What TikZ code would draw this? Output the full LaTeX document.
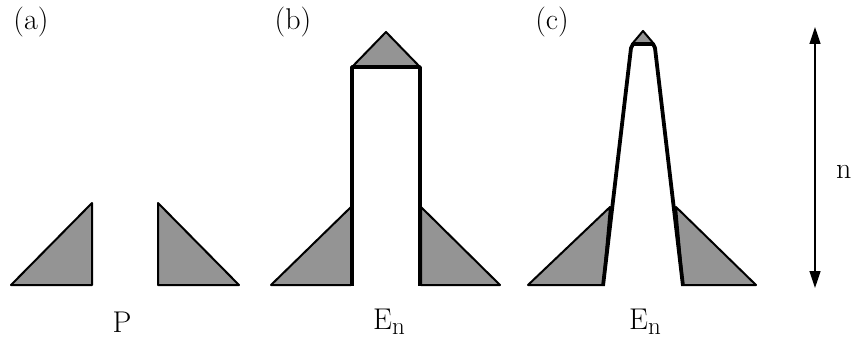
\documentclass[tikz,border=0pt]{standalone}
\usepackage{tikz}
\usetikzlibrary{arrows.meta}

\begin{document}
\begin{tikzpicture}[x=1pt,y=-1pt,line join=round,
  hatched/.style={draw=black,line width=2pt,fill=black!42},
  wall/.style={draw=black,line width=3.8pt},
  lbl/.style={font=\fontsize{30}{36}\selectfont,inner sep=0pt}]
  \useasboundingbox (0,0) rectangle (853,342);
  % (a)
  \node[lbl] (la) at (31,22) {(a)};
  \filldraw[hatched] (11,285) -- (92,203) -- (92,285) -- cycle;
  \filldraw[hatched] (158,203) -- (239,285) -- (158,285) -- cycle;
  \node[lbl] (lp) at (122,322) {P};
  % (b)
  \node[lbl] (lb) at (293,22) {(b)};
  \filldraw[hatched] (271,285) -- (351,207) -- (351,285) -- cycle;
  \filldraw[hatched] (421,207) -- (500,285) -- (421,285) -- cycle;
  \filldraw[hatched] (352,67) -- (386,32) -- (420,67) -- cycle;
  \draw[wall] (352,286) -- (352,67) -- (420,67) -- (420,286);
  \node[lbl] (eb) at (389,322) {E{\fontsize{25}{30}\selectfont\raisebox{-5pt}{n}}};
  % (c)
  \node[lbl] (lc) at (552,22) {(c)};
  \filldraw[hatched] (528,285) -- (610,207) -- (603,285) -- cycle;
  \filldraw[hatched] (676,207) -- (756,285) -- (683,285) -- cycle;
  \filldraw[hatched] (632,44) -- (643,31) -- (654,44) -- cycle;
  \draw[wall] (603,286) -- (631,48) -- (633,44) -- (653,44) -- (655,48) -- (683,286);
  \node[lbl] (ec) at (645,322) {E{\fontsize{25}{30}\selectfont\raisebox{-5pt}{n}}};
  % height arrow
  \coordinate (ntop) at (815,27);
  \coordinate (nbot) at (815,288);
  \draw[line width=1.3pt,{Triangle[length=17pt,width=11pt]}-{Triangle[length=17pt,width=11pt]}] (ntop) -- (nbot);
  \node[lbl,anchor=west] (ln) at (836,172) {n};
\end{tikzpicture}
\end{document}
